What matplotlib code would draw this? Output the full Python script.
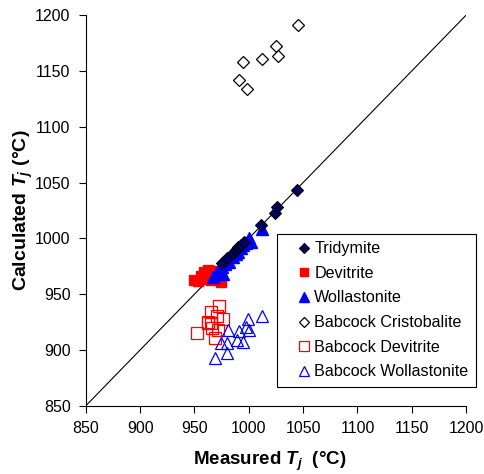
import matplotlib

matplotlib.use("Agg")
import matplotlib.pyplot as plt

plt.rcParams["font.family"] = ["Liberation Sans", "DejaVu Sans"]
plt.rcParams["mathtext.fontset"] = "custom"
plt.rcParams["mathtext.it"] = "Liberation Sans:bold:italic"
plt.rcParams["mathtext.rm"] = "Liberation Sans:bold"

# measured vs calculated liquidus temperatures (deg C)
trid_meas = [975, 980, 985, 988, 990, 993, 996, 1011, 1024, 1026, 1044]
trid_calc = [978, 982, 987, 990, 992, 994, 997, 1012, 1023, 1028, 1043]

devit_meas = [950, 953, 956, 959, 962, 965, 967, 969, 971, 974, 958, 963]
devit_calc = [963, 962, 966, 970, 972, 963, 968, 971, 967, 961, 964, 966]

woll_meas = [967, 970, 972, 975, 976, 978, 980, 982, 985, 988, 990, 993,
             995, 997, 1000, 1002, 1012]
woll_calc = [965, 968, 971, 974, 968, 977, 981, 979, 983, 986, 988, 991,
             994, 996, 1000, 997, 1008]

bcris_meas = [1045, 1025, 1027, 1012, 995, 991, 998]
bcris_calc = [1191, 1172, 1163, 1161, 1158, 1142, 1134]

bdev_meas = [952, 973, 965, 962, 965, 971, 976, 969, 972, 966, 962]
bdev_calc = [915, 939, 934, 925, 924, 930, 928, 911, 918, 920, 924]

bwoll_meas = [969, 980, 974, 980, 981, 989, 995, 991, 999, 1000, 997, 1012]
bwoll_calc = [893, 897, 906, 906, 918, 909, 907, 917, 928, 918, 921, 930]

fig = plt.figure(figsize=(4.85, 4.74), dpi=100)
ax = fig.add_axes([0.177, 0.144, 0.784, 0.824])

ax.plot([850, 1200], [850, 1200], color="black", lw=0.8, zorder=1)

ax.plot(trid_meas, trid_calc, "D", ms=6.5, mfc="#000066", mec="black", mew=0.8,
        label="Tridymite", zorder=4)
ax.plot(devit_meas, devit_calc, "s", ms=7.5, mfc="#ff0000", mec="#ff0000",
        label="Devitrite", zorder=3)
ax.plot(woll_meas, woll_calc, "^", ms=8, mfc="#0000ff", mec="#0000ff",
        label="Wollastonite", zorder=3)
ax.plot(bcris_meas, bcris_calc, "D", ms=6.5, mfc="white", mec="black", mew=0.9,
        label="Babcock Cristobalite", zorder=3)
ax.plot(bdev_meas, bdev_calc, "s", ms=8, mfc="none", mec="#ff0000", mew=0.9,
        label="Babcock Devitrite", zorder=2)
ax.plot(bwoll_meas, bwoll_calc, "^", ms=8.5, mfc="none", mec="#0000ff", mew=0.9,
        label="Babcock Wollastonite", zorder=2)

ax.set_xlim(850, 1200)
ax.set_ylim(850, 1200)
ax.set_xticks(range(850, 1201, 50))
ax.set_yticks(range(850, 1201, 50))
ax.tick_params(direction="out", length=5, width=0.8, labelsize=11.5, pad=6)
for s in ("top", "right"):
    ax.spines[s].set_visible(False)

ax.set_xlabel(r"Measured $T_j$  (°C)", fontsize=13.5, fontweight="bold")
ax.xaxis.set_label_coords(0.484, -0.112)
ax.set_ylabel(r"Calculated $T_j$ (°C)", fontsize=14, fontweight="bold", labelpad=0)

leg = ax.legend(loc="upper left", bbox_to_anchor=(0.503, 0.44), fontsize=11.6,
                frameon=True, fancybox=False, edgecolor="black", framealpha=1,
                handlelength=2.4, handletextpad=-0.55, labelspacing=0.6,
                borderpad=0.45, markerscale=0.85, borderaxespad=0)
leg.get_frame().set_linewidth(0.8)

fig.savefig("out.png", dpi=100)
